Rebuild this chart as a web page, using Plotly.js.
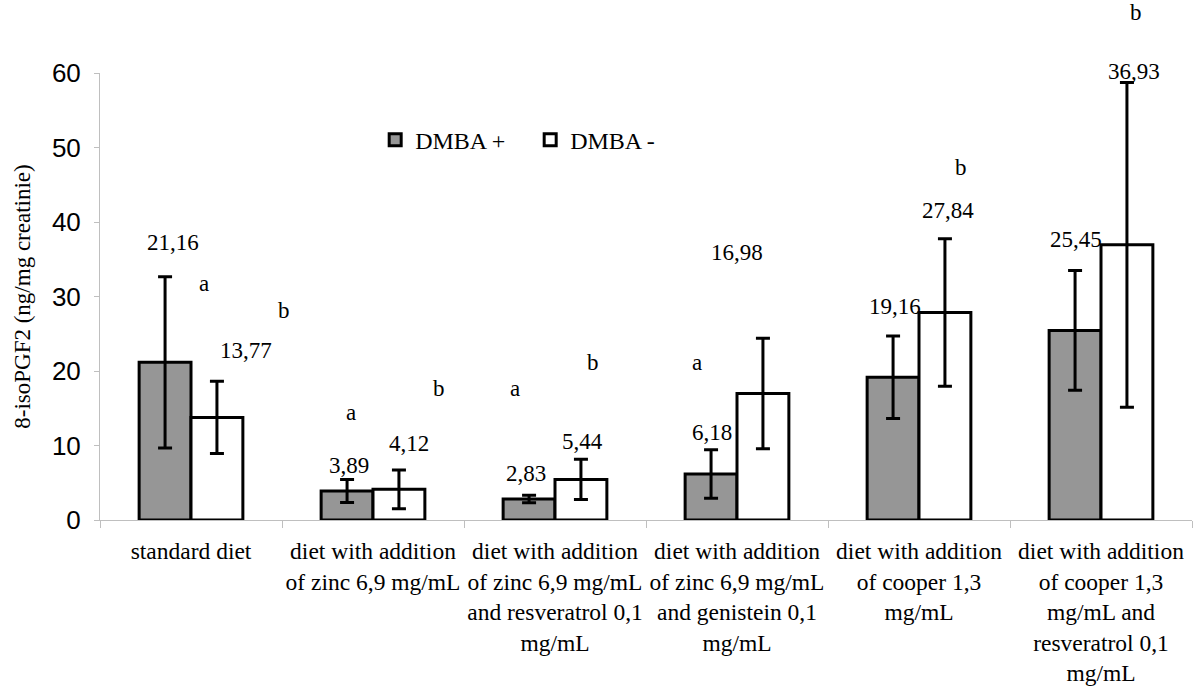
<!DOCTYPE html>
<html>
<head>
<meta charset="utf-8">
<script src="https://cdn.plot.ly/plotly-3.0.1.min.js"></script>
<style>html,body{margin:0;padding:0;background:#fff;}#chart{width:1200px;height:692px;}</style>
</head>
<body>
<div id="chart"></div>
<script>
// ---- data ----
const categories = [
  "standard diet",
  "diet with addition<br>of zinc 6,9 mg/mL",
  "diet with addition<br>of zinc 6,9 mg/mL<br>and resveratrol 0,1<br>mg/mL",
  "diet with addition<br>of zinc 6,9 mg/mL<br>and genistein 0,1<br>mg/mL",
  "diet with addition<br>of cooper 1,3<br>mg/mL",
  "diet with addition<br>of cooper 1,3<br>mg/mL and<br>resveratrol 0,1<br>mg/mL"
];
const dmbaPlus  = [21.16, 3.89, 2.83, 6.18, 19.16, 25.45];
const dmbaMinus = [13.77, 4.12, 5.44, 16.98, 27.84, 36.93];
const errPlus   = [11.5, 1.55, 0.5, 3.25, 5.55, 8.05];
const errMinus  = [4.85, 2.6, 2.7, 7.4, 9.9, 21.8];
const letterText = ["a", "b", "a", "b", "a", "b", "a", "b", "b"];
const letterCat  = [0, 0, 1, 1, 2, 2, 3, 4, 5];
const yTicks = [0, 10, 20, 30, 40, 50, 60];

// ---- label placement (layout) ----
const yMax = 60;
const plusLabelDx  = [-0.10, -0.13, -0.16, -0.14, -0.13, -0.14];
const plusLabelY   = [37.3, 7.25, 6.3, 11.8, 28.6, 37.6];
const minusLabelDx = [0.30, 0.20, 0.15, 0.0, 0.16, 0.18];
const minusLabelY  = [22.7, 10.3, 10.5, 35.9, 41.5, 60.2];
const letterDx = [0.07, 0.51, -0.12, 0.36, -0.22, 0.21, -0.22, 0.23, 0.19];
const letterY  = [31.8, 28.1, 14.4, 17.7, 17.7, 21.2, 21.2, 47.3, 68.1];

const fmt = v => v.toFixed(2).replace('.', ',');
const serif = "Liberation Serif, Times New Roman, serif";

const traces = [
  {
    type: 'bar', name: 'DMBA +', x: categories, y: dmbaPlus,
    marker: {color: '#969696', line: {color: '#000', width: 3}},
    error_y: {type: 'data', array: errPlus, visible: true, color: '#000', thickness: 3, width: 7}
  },
  {
    type: 'bar', name: 'DMBA -', x: categories, y: dmbaMinus,
    marker: {color: '#ffffff', line: {color: '#000', width: 3}},
    error_y: {type: 'data', array: errMinus, visible: true, color: '#000', thickness: 3, width: 7}
  }
];

const ann = (x, y, t) => ({
  x: x, y: y / yMax, xref: 'x', yref: 'paper', text: t, showarrow: false,
  xanchor: 'center', yanchor: 'middle',
  font: {family: serif, size: 23, color: '#000'}
});
const annotations = [];
dmbaPlus.forEach((v, i) => annotations.push(ann(i + plusLabelDx[i], plusLabelY[i], fmt(v))));
dmbaMinus.forEach((v, i) => annotations.push(ann(i + minusLabelDx[i], minusLabelY[i], fmt(v))));
letterText.forEach((t, k) => annotations.push(ann(letterCat[k] + letterDx[k], letterY[k], t)));

const layout = {
  width: 1200, height: 692,
  margin: {l: 100, r: 8, t: 73, b: 172},
  paper_bgcolor: '#fff', plot_bgcolor: '#fff',
  barmode: 'group', bargap: 0.43, bargroupgap: 0,
  showlegend: true,
  legend: {orientation: 'h', x: 0.252, y: 0.85, xanchor: 'left', yanchor: 'middle',
           entrywidth: 110, entrywidthmode: 'pixels',
           font: {family: serif, size: 24, color: '#000'}, bgcolor: 'rgba(0,0,0,0)'},
  xaxis: {
    type: 'category', range: [-0.5, 5.5], tickson: 'boundaries',
    showline: true, linecolor: '#bfbfbf', linewidth: 1,
    ticks: 'outside', ticklen: 7, tickcolor: '#bfbfbf',
    ticklabelstandoff: 10, tickangle: 0,
    tickfont: {family: serif, size: 23.5, color: '#000'},
    showgrid: false, zeroline: false, fixedrange: true
  },
  yaxis: {
    range: [0, yMax], tickvals: yTicks, ticktext: yTicks.map(String),
    showline: true, linecolor: '#bfbfbf', linewidth: 1,
    ticks: 'outside', ticklen: 5, tickcolor: '#bfbfbf',
    ticklabelstandoff: 8,
    tickfont: {family: 'Liberation Sans, Arial, sans-serif', size: 26, color: '#000'},
    showgrid: false, zeroline: false,
    title: {text: '8-isoPGF2 (ng/mg creatinie)', font: {family: serif, size: 23, color: '#000'}, standoff: 14}
  },
  annotations: annotations
};

Plotly.newPlot('chart', traces, layout, {displayModeBar: false, staticPlot: true});
</script>
</body>
</html>
